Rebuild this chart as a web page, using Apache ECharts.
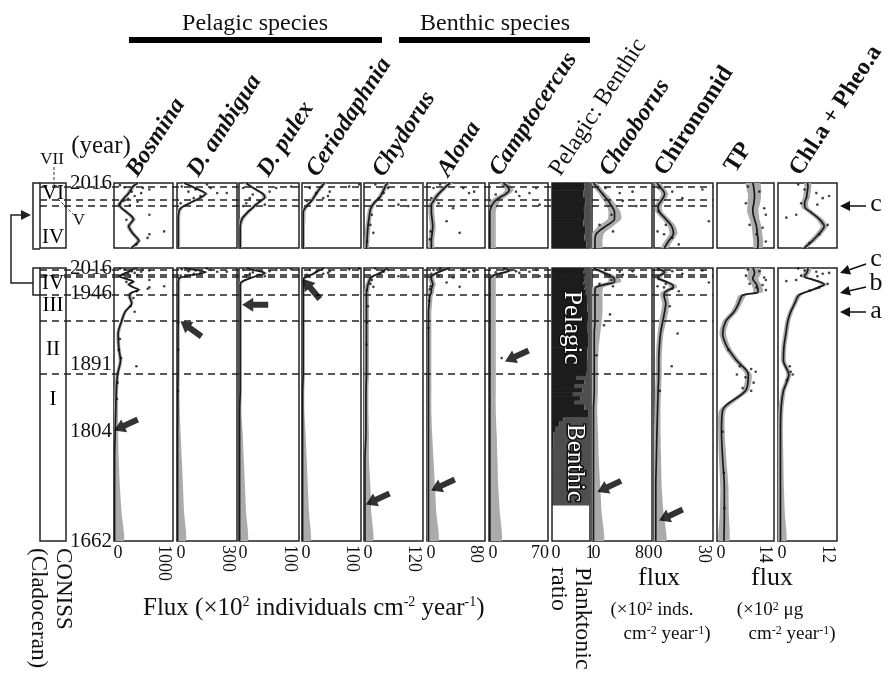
<!DOCTYPE html>
<html>
<head>
<meta charset="utf-8">
<script src="https://cdn.jsdelivr.net/npm/echarts@6/dist/echarts.min.js"></script>
<style>
html, body { margin: 0; background: #fff; }
#chart { width: 886px; height: 677px; }
</style>
</head>
<body>
<div id="chart"></div>
<script>
const FONT = '"Liberation Serif", "DejaVu Serif", serif';

// depth scale: 0 = 2016 (core top), 100 = 1662 (core bottom)
const depths = [0, 0.5, 1, 1.5, 2, 2.5, 3, 3.5, 4, 5, 6, 7, 8, 9, 10, 13, 16, 19.4, 24, 29, 34, 39, 45, 52, 60, 70, 80, 90, 100];
const yearDepths = [0, 9.5, 35.5, 60, 100];
const yearLabels = ['2016', '1946', '1891', '1804', '1662'];
const zoneDepthsTop = [0.55, 2.35, 3.2];
const zoneDepthsAll = [0.55, 2.35, 3.2, 9.9, 19.4, 38.8];
const topRowMax = 9;

const panelNames = ['Bosmina', 'D. ambigua', 'D. pulex', 'Ceriodaphnia', 'Chydorus', 'Alona', 'Camptocercus',
  'Pelagic: Benthic', 'Chaoborus', 'Chironomid', 'TP', 'Chl.a + Pheo.a'];
const axisMax = [1000, 300, 100, 100, 120, 80, 70, 1, 80, 30, 14, 12];
const maxRotated = [true, true, true, true, true, true, false, false, false, true, true, true];

// smoothed trends (values on each panel's flux axis)
const bosLine = [400, 320, 280, 240, 180, 130, 90, 130, 210, 330, 250, 320, 420, 300, 260, 300, 190, 130, 70, 80, 110, 60, 40, 30, 20, 10, 10, 10, 10];
const dAmbLine = [36, 75, 114, 144, 120, 84, 48, 18, 9, 6, 6, 6, 6, 6, 6, 6, 6, 6, 5, 5, 5, 5, 4, 4, 3, 3, 3, 3, 3];
const dPulLine = [12, 20, 30, 40, 43, 36, 28, 22, 15, 5, 2, 2, 2, 2, 2, 2, 2, 2, 2, 2, 2, 2, 2, 1, 1, 1, 1, 1, 1];
const cerioLine = [38, 33, 28, 24, 20, 16, 10, 5, 2, 2, 2, 2, 2, 2, 2, 2, 2, 2, 2, 2, 2, 2, 1, 1, 1, 1, 1, 1, 1];
const chydLine = [48, 43, 40, 36, 32, 24, 18, 14, 12, 10, 8, 7, 6, 5, 5, 5, 5, 5, 5, 5, 5, 5, 4, 4, 4, 2, 2, 2, 2];
const alonaLine = [32, 26, 21, 16, 12, 9, 6, 6, 6, 7, 8, 7, 6, 6, 4, 3, 2, 2, 2, 2, 2, 2, 2, 2, 2, 2, 2, 2, 2];
const camptoLine = [17, 22, 24, 20, 13, 7, 4, 2, 1, 1, 1, 1, 1, 1, 1, 1, 1, 1, 1, 1, 1, 1, 1, 1, 1, 1, 1, 1, 1];
const chaobLine = [2, 6, 10, 14, 18, 22, 25, 28, 30, 30, 18, 6, 4, 4, 4, 4, 4, 4, 3, 3, 3, 3, 3, 2, 2, 2, 2, 2, 2];
const chironLine = [1.5, 3, 4.5, 5.4, 4.8, 3.6, 2.4, 2.1, 2.7, 6, 9, 9.9, 7.5, 5.4, 5.1, 6, 5.4, 4.5, 3.3, 2.7, 2.4, 2.4, 2.1, 1.8, 1.5, 1.2, 0.9, 0.9, 0.9];
const tpLine = [8.8, 9.0, 9.1, 9.2, 9.2, 9.1, 9.0, 8.8, 8.8, 9.2, 9.7, 9.9, 10.1, 10.0, 6.3, 5.3, 4.2, 2.2, 1.4, 2.5, 4.9, 7.7, 7.0, 1.4, 1.1, 1.4, 1.8, 1.8, 1.7];
const chlLine = [6, 6.1, 6, 5.9, 5.8, 5.5, 5.4, 5.6, 6.6, 8.4, 9.4, 8.4, 7, 5.4, 4.2, 3.4, 2.6, 2, 1.6, 1.2, 1.1, 2.2, 1.1, 0.6, 0.5, 0.5, 0.5, 0.5, 0.5];

// half width of the grey confidence band
const bosBand = [40, 40, 40, 40, 40, 40, 40, 40, 40, 40, 40, 40, 40, 40, 40, 30, 30, 30, 30, 30, 30, 30, 30, 40, 50, 70, 90, 120, 160];
const dAmbBand = [12, 12, 12, 12, 12, 12, 12, 12, 10, 10, 10, 10, 10, 10, 10, 9, 9, 9, 9, 9, 9, 9, 9, 10, 15, 21, 27, 33, 42];
const dPulBand = [4, 4, 4, 4, 4, 4, 4, 4, 4, 4, 3, 3, 3, 3, 3, 3, 3, 3, 3, 3, 3, 3, 3, 3, 5, 7, 9, 11, 14];
const cerioBand = [4, 4, 4, 4, 4, 4, 4, 4, 4, 4, 3, 3, 3, 3, 3, 3, 3, 3, 3, 3, 3, 3, 3, 3, 5, 7, 9, 11, 14];
const chydBand = [5, 5, 5, 5, 5, 5, 5, 5, 5, 5, 5, 5, 5, 5, 5, 5, 5, 5, 5, 5, 5, 5, 5, 5, 6, 8, 11, 13, 17];
const alonaBand = [4, 4, 4, 4, 4, 4, 4, 4, 4, 4, 4, 4, 4, 4, 4, 4, 4, 4, 4, 4, 4, 4, 4, 4, 5, 7, 9, 11, 14];
const camptoBand = [5, 5, 5, 5, 6, 6, 7, 7, 7, 7, 7, 7, 7, 7, 7, 7, 7, 7, 7, 7, 7, 7, 7, 7, 8, 9, 10, 12, 14];
const chaobBand = [5, 5, 5, 5, 6, 6, 7, 7, 8, 9, 10, 10, 10, 10, 10, 10, 10, 9, 8, 6, 5, 5, 5, 5, 6, 7, 9, 11, 14];
const chironBand = [1.8, 1.8, 1.8, 1.8, 1.8, 1.8, 1.8, 1.8, 1.8, 2, 2, 2, 2, 2, 2, 1.8, 1.8, 1.8, 1.5, 1.5, 1.5, 1.5, 1.5, 1.5, 1.8, 2.4, 3, 4, 5.4];
const tpBand = [1.8, 1.8, 1.8, 1.6, 1.6, 1.6, 1.5, 1.4, 1.4, 1.2, 1.2, 1.2, 1.2, 1.2, 1.0, 0.8, 0.8, 0.8, 0.8, 0.8, 0.8, 0.8, 0.8, 0.8, 0.8, 0.9, 1.0, 1.1, 1.3];
const chlBand = [0.7, 0.7, 0.7, 0.7, 0.7, 0.7, 0.7, 0.7, 0.7, 0.7, 0.7, 0.7, 0.7, 0.6, 0.6, 0.5, 0.5, 0.5, 0.5, 0.5, 0.5, 0.5, 0.5, 0.5, 0.5, 0.6, 0.7, 0.9, 1.2];

// raw samples [value, depth]
const bosDots = [[100, 0.3], [180, 0.6], [600, 0.9], [460, 1.4], [350, 1.8], [240, 2.2], [160, 2.5], [100, 2.9], [400, 2.6], [270, 3.1], [600, 4.4], [210, 5.1], [850, 6.7], [600, 7.1], [570, 7.6], [380, 8.5], [490, 0.7], [300, 1.2], [330, 11], [280, 14], [350, 16], [380, 36], [100, 26], [80, 30], [120, 33], [60, 42], [50, 48]];
const dAmbDots = [[24, 0.5], [57, 1.2], [168, 0.7], [201, 1.4], [249, 1.4], [117, 1.8], [84, 2.1], [18, 2.8], [150, 0.2], [93, 0.9], [6, 20], [6, 30], [5, 45]];
const dPulDots = [[7, 0.7], [18, 2.1], [34, 2.5], [51, 1.2], [62, 0.7], [87, 0.5], [7, 3.2], [23, 1.6], [12, 2.8], [43, 3.0]];
const cerioDots = [[13, 0.7], [24, 1.4], [47, 1.2], [36, 2.1], [80, 0.5], [97, 0.2], [8, 2.5], [44, 1.8]];
const chydDots = [[23, 0.2], [49, 0.7], [40, 1.4], [70, 3.0], [90, 3.2], [16, 4.4], [13, 5.8], [19, 6.9], [6, 8.1], [30, 2.1], [8, 14], [6, 20], [5, 28]];
const alonaDots = [[9, 0.7], [18, 0.2], [58, 1.4], [65, 1.2], [50, 0.7], [6, 2.1], [16, 2.8], [27, 5.3], [45, 6.9], [5, 6.7], [4, 7.8], [36, 3.5], [3, 12], [2, 22]];
const camptoDots = [[17, 0.5], [32, 1.2], [48, 1.4], [56, 0.7], [36, 1.8], [60, 3.0], [8, 1.6], [15, 33]];
const chaobDots = [[18, 0.7], [37, 1.4], [54, 1.2], [41, 2.5], [26, 4.4], [10, 5.8], [28, 6.7], [59, 3.2], [24, 17], [16, 21], [6, 32]];
const chironDots = [[2.4, 0.7], [9.3, 1.2], [14.4, 2.1], [24.6, 0.9], [2.4, 3.9], [6, 5.8], [27.9, 5.3], [1.8, 6.7], [9.3, 7.6], [12.6, 8.5], [5.1, 7.1], [8, 14], [12, 24], [9, 36], [3, 45]];
const tpDots = [[7.6, 0.5], [10.4, 1.2], [7.1, 2.8], [12, 4.4], [8, 5.8], [11.2, 6.2], [12, 8.1], [9.7, 7.1], [11.6, 3.5], [5.6, 36], [8.4, 37], [9.5, 38], [7, 40], [9, 42], [6.3, 44], [8.4, 45], [4.9, 39], [2.8, 30], [1.4, 60], [1.7, 75], [1.8, 88]];
const chlDots = [[4.1, 0.2], [5.4, 0.9], [7.8, 1.4], [9.1, 2.1], [4.7, 2.8], [8, 3.0], [3.7, 4.4], [1.7, 4.8], [10.1, 5.8], [8.4, 7.1], [6.4, 8.3], [10.4, 1.8], [2.4, 36], [3, 39], [1.8, 41], [2.6, 38]];

// planktonic ratio by depth interval
const pbEdges = [0, 1, 2, 3, 4, 5, 6, 7, 8, 9, 10, 13, 16, 19.4, 24, 29, 34, 38, 39.5, 41, 42.5, 44, 45.5, 47, 48.5, 50, 52, 54.6, 56, 58, 60, 65, 70, 75, 80, 86.8];
const pbRatio = [0.85, 0.82, 0.88, 0.84, 0.86, 0.83, 0.87, 0.85, 0.9, 0.88, 0.92, 0.93, 0.95, 0.94, 0.95,
  0.93, 0.92, 0.9, 0.65, 0.85, 0.6, 0.8, 0.55, 0.75, 0.6, 0.85, 0.95, 0.3, 0.2, 0.1, 0.03, 0.02, 0.02, 0.02, 0.02];

// arrows in the long record: [panel, value, depth, rotation]
const arrowMarks = [[0, 203, 57.5, 25], [1, 70, 22.3, -36], [2, 27, 13.5, 0], [3, 16, 7.7, -50], [4, 28, 84.6, 25],
  [5, 22, 79.5, 25], [6, 33, 32.2, 25], [8, 23, 80, 25], [9, 8.6, 90.5, 25]];

// CONISS zone labels
const conissTop = [['VI', 1.4], ['IV', 7.5]];
const conissAll = [['IV', 5.5], ['III', 13.9], ['II', 30], ['I', 48]];

const lineData = [bosLine, dAmbLine, dPulLine, cerioLine, chydLine, alonaLine, camptoLine, null, chaobLine, chironLine, tpLine, chlLine];
const bandData = [bosBand, dAmbBand, dPulBand, cerioBand, chydBand, alonaBand, camptoBand, null, chaobBand, chironBand, tpBand, chlBand];
const dotData = [bosDots, dAmbDots, dPulDots, cerioDots, chydDots, alonaDots, camptoDots, null, chaobDots, chironDots, tpDots, chlDots];

// layout
const panelLeft = [114, 177, 239, 302, 364, 427, 489, 552, 592, 654, 717, 778];
const panelWidth = [59, 60, 60, 59, 59, 58, 59, 38, 60, 59, 57, 59];
const rowTop = [183, 268];
const rowHeight = [65, 273];
const titlePos = [[142, 181], [203, 181], [273, 181], [322, 181], [388, 181], [453, 181], [505, 180],
  [565, 180], [615, 180], [670, 180], [740, 177], [805, 180]];
const titleItalic = [true, true, true, true, true, true, true, false, true, false, false, false];

const ARROW = 'path://M0,7L11,0L11,4L26,4L26,10L11,10L11,14Z';

const grids = [], xAxes = [], yAxes = [], series = [];
const noAxis = { axisLine: { show: false }, axisTick: { show: false }, splitLine: { show: false } };

for (let r = 0; r < 2; r++) {
  const yMax = r === 0 ? topRowMax : 100;

  // dashed zone boundaries across the cladoceran panels
  grids.push({ left: 40, top: rowTop[r], width: 673, height: rowHeight[r], show: false });
  let gi = grids.length - 1;
  xAxes.push({ gridIndex: gi, type: 'value', min: 0, max: 1, show: false });
  yAxes.push({ gridIndex: gi, type: 'value', min: 0, max: yMax, inverse: true, show: false });
  series.push({
    type: 'line', xAxisIndex: xAxes.length - 1, yAxisIndex: yAxes.length - 1, data: [[0, 0]],
    showSymbol: false, lineStyle: { opacity: 0 }, z: 2, silent: true,
    markLine: {
      silent: true, symbol: 'none', label: { show: false },
      lineStyle: { type: [7, 5], color: '#222', width: 1.6 },
      data: (r === 0 ? zoneDepthsTop : zoneDepthsAll).map(d => ({ yAxis: d }))
    }
  });

  // CONISS box
  grids.push({ left: 40, top: rowTop[r], width: 26, height: rowHeight[r], show: true, borderColor: '#222', borderWidth: 1.5 });
  gi = grids.length - 1;
  xAxes.push({ gridIndex: gi, type: 'value', min: 0, max: 1, show: false });
  yAxes.push({ gridIndex: gi, type: 'value', min: 0, max: yMax, inverse: true, show: false });
  series.push({
    type: 'scatter', xAxisIndex: xAxes.length - 1, yAxisIndex: yAxes.length - 1, symbolSize: 1, silent: true, z: 8,
    itemStyle: { color: '#fff', opacity: 1 },
    data: (r === 0 ? conissTop : conissAll).map(z => ({ name: z[0], value: [0.5, z[1]] })),
    label: {
      show: true, position: 'top', distance: 0, offset: [0, 11], formatter: '{b}', fontFamily: FONT, fontSize: 21,
      color: '#000', opacity: 1
    }
  });

  for (let p = 0; p < panelNames.length; p++) {
    grids.push({
      left: panelLeft[p], top: rowTop[r], width: panelWidth[p], height: rowHeight[r],
      show: true, borderColor: '#222', borderWidth: 1.5, backgroundColor: 'transparent'
    });
    gi = grids.length - 1;
    const xa = xAxes.length;
    xAxes.push(Object.assign({
      gridIndex: gi, type: 'value', position: 'bottom', min: 0, max: axisMax[p], show: r === 1,
      axisLabel: { customValues: [0], fontFamily: FONT, fontSize: 18, color: '#111', margin: 3, padding: [0, 0, 0, 8] }
    }, noAxis));
    const maxLabel = maxRotated[p]
      ? { rotate: -90, verticalAlign: 'top', margin: 4 }
      : { rotate: 0, padding: p === 7 ? 0 : [0, 16, 0, 0], margin: 3 };
    xAxes.push(Object.assign({
      gridIndex: gi, type: 'value', position: 'bottom', min: 0, max: axisMax[p], show: r === 1,
      axisLabel: Object.assign({
        customValues: [axisMax[p]], formatter: v => String(v), fontFamily: FONT, fontSize: 18, color: '#111'
      }, maxLabel)
    }, noAxis));
    const ya = yAxes.length;
    yAxes.push(Object.assign({
      gridIndex: gi, type: 'value', min: 0, max: yMax, inverse: true,
      axisLabel: {
        show: p === 0, customValues: r === 0 ? [0] : yearDepths,
        formatter: v => yearLabels[yearDepths.indexOf(v)],
        fontFamily: FONT, fontSize: 21, color: '#111', margin: 2
      }
    }, noAxis));

    if (p === 7) {
      const pbItems = pbRatio.map((v, i) => [v, pbEdges[i], pbEdges[i + 1]]);
      series.push({
        type: 'custom', xAxisIndex: xa, yAxisIndex: ya, clip: true, silent: true, z: 5,
        data: pbItems,
        renderItem: (params, api) => {
          const ratio = api.value(0), t = api.value(1), b = api.value(2);
          const a = api.coord([0, t]), m = api.coord([ratio, b]), e = api.coord([1, b]);
          const h = m[1] - a[1] + 0.6;
          return {
            type: 'group', children: [
              { type: 'rect', shape: { x: a[0], y: a[1], width: m[0] - a[0], height: h }, style: { fill: '#1c1c1c' } },
              { type: 'rect', shape: { x: m[0], y: a[1], width: e[0] - m[0], height: h }, style: { fill: '#4e4e4e' } }
            ]
          };
        }
      });
      continue;
    }

    const line = lineData[p], band = bandData[p];
    series.push({
      type: 'custom', xAxisIndex: xa, yAxisIndex: ya, clip: true, silent: true, z: 1,
      data: [[0, 0]],
      renderItem: (params, api) => {
        const pts = [];
        for (let i = 0; i < depths.length; i++) pts.push(api.coord([Math.max(0, line[i] - band[i]), depths[i]]));
        for (let i = depths.length - 1; i >= 0; i--) pts.push(api.coord([line[i] + band[i], depths[i]]));
        return { type: 'polygon', shape: { points: pts, smooth: 0.2 }, style: { fill: '#ababab' } };
      }
    });
    series.push({
      type: 'line', xAxisIndex: xa, yAxisIndex: ya, silent: true, z: 3,
      data: depths.map((d, i) => [line[i], d]),
      showSymbol: false, smooth: 0.3, lineStyle: { color: '#1a1a1a', width: 1.7 }
    });
    series.push({
      type: 'scatter', xAxisIndex: xa, yAxisIndex: ya, silent: true, z: 4,
      data: dotData[p], symbolSize: 2.6, itemStyle: { color: '#111' }
    });
    if (r === 1) {
      const marks = arrowMarks.filter(a => a[0] === p);
      marks.forEach(a => {
        series.push({
          type: 'scatter', xAxisIndex: xa, yAxisIndex: ya, silent: true, z: 6, clip: false,
          data: [[a[1], a[2]]], symbol: ARROW, symbolSize: [26, 14], symbolRotate: a[3],
          itemStyle: { color: '#000' }
        });
      });
    }
  }
}

// ---- text and decorations ----
const graphic = [];
const txt = (text, x, y, opt) => Object.assign({
  type: 'text', x, y, silent: true,
  style: Object.assign({ text, fontFamily: FONT, fontSize: 22, fill: '#111', textAlign: 'center', textVerticalAlign: 'middle' }, opt || {})
});

panelNames.forEach((name, p) => {
  graphic.push({
    type: 'text', x: titlePos[p][0], y: titlePos[p][1], rotation: 57 * Math.PI / 180, silent: true,
    style: {
      text: name, fontFamily: FONT, fontSize: 24,
      fontWeight: p === 7 ? 'normal' : 'bold', fontStyle: titleItalic[p] ? 'italic' : 'normal',
      fill: '#111', textAlign: 'left', textVerticalAlign: 'bottom'
    }
  });
});

graphic.push(txt('Pelagic species', 255, 24, { fontSize: 24 }));
graphic.push(txt('Benthic species', 495, 24, { fontSize: 24 }));
graphic.push({ type: 'rect', shape: { x: 129, y: 37, width: 253, height: 6 }, style: { fill: '#000' }, silent: true });
graphic.push({ type: 'rect', shape: { x: 399, y: 37, width: 191, height: 6 }, style: { fill: '#000' }, silent: true });

graphic.push(txt('(year)', 101, 146, { fontSize: 25 }));
graphic.push(txt('VII', 52, 160, { fontSize: 17 }));
graphic.push(txt('V', 79, 221, { fontSize: 17 }));
graphic.push({ type: 'line', shape: { x1: 54, y1: 167, x2: 54, y2: 188 }, style: { stroke: '#333', lineWidth: 1, lineDash: [3, 2] }, silent: true });
graphic.push({ type: 'line', shape: { x1: 58, y1: 199, x2: 73, y2: 214 }, style: { stroke: '#333', lineWidth: 1, lineDash: [3, 2] }, silent: true });

// CONISS brackets and link arrow
graphic.push({ type: 'polyline', shape: { points: [[40, 183], [33, 183], [33, 249], [40, 249]] }, style: { stroke: '#222', lineWidth: 1.5, fill: null }, silent: true });
graphic.push({ type: 'polyline', shape: { points: [[40, 268], [33, 268], [33, 295], [40, 295]] }, style: { stroke: '#222', lineWidth: 1.5, fill: null }, silent: true });
graphic.push({ type: 'polyline', shape: { points: [[33, 283], [11, 283], [11, 215], [22, 215]] }, style: { stroke: '#222', lineWidth: 1.5, fill: null }, silent: true });
graphic.push({ type: 'polygon', shape: { points: [[31, 215], [21, 210], [21, 220]] }, style: { fill: '#222' }, silent: true });

// right-hand markers
const pointer = (x1, y1, tx, ty) => {
  const dx = tx - x1, dy = ty - y1, len = Math.hypot(dx, dy), ux = dx / len, uy = dy / len;
  const bx = tx - ux * 10, by = ty - uy * 10;
  graphic.push({ type: 'line', shape: { x1, y1, x2: bx, y2: by }, style: { stroke: '#111', lineWidth: 1.5 }, silent: true });
  graphic.push({ type: 'polygon', shape: { points: [[tx, ty], [bx - uy * 5, by + ux * 5], [bx + uy * 5, by - ux * 5]] }, style: { fill: '#111' }, silent: true });
};
pointer(866, 206, 840, 206);
graphic.push(txt('c', 876, 204, { fontSize: 26 }));
pointer(866, 264, 840, 273);
graphic.push(txt('c', 876, 259, { fontSize: 26 }));
pointer(866, 287, 840, 293);
graphic.push(txt('b', 876, 283, { fontSize: 26 }));
pointer(866, 312, 840, 312);
graphic.push(txt('a', 876, 311, { fontSize: 26 }));

// labels inside the pelagic/benthic column
graphic.push({ type: 'text', x: 572, y: 291, rotation: -Math.PI / 2, silent: true, z: 100,
  style: { text: 'Pelagic', fontFamily: FONT, fontSize: 25, fill: '#fff', stroke: '#111', lineWidth: 3, textAlign: 'left', textVerticalAlign: 'middle' } });
graphic.push({ type: 'text', x: 575, y: 424, rotation: -Math.PI / 2, silent: true, z: 100,
  style: { text: 'Benthic', fontFamily: FONT, fontSize: 25, fill: '#fff', stroke: '#111', lineWidth: 3, textAlign: 'left', textVerticalAlign: 'middle' } });

// bottom captions
const supRich = { s: { fontFamily: FONT, fontSize: 14, verticalAlign: 'top', fill: '#111' } };
graphic.push({ type: 'text', x: 143, y: 608, silent: true,
  style: { text: 'Flux (×10{s|2} individuals cm{s|-2} year{s|-1})', fontFamily: FONT, fontSize: 25, fill: '#111',
    textAlign: 'left', textVerticalAlign: 'middle', rich: supRich } });
graphic.push({ type: 'text', x: 582, y: 567, rotation: -Math.PI / 2, silent: true,
  style: { text: 'Planktonic', fontFamily: FONT, fontSize: 24, fill: '#111', textAlign: 'left', textVerticalAlign: 'middle' } });
graphic.push({ type: 'text', x: 558, y: 567, rotation: -Math.PI / 2, silent: true,
  style: { text: 'ratio', fontFamily: FONT, fontSize: 24, fill: '#111', textAlign: 'left', textVerticalAlign: 'middle' } });
graphic.push({ type: 'text', x: 63, y: 548, rotation: -Math.PI / 2, silent: true,
  style: { text: 'CONISS', fontFamily: FONT, fontSize: 23, fill: '#111', textAlign: 'left', textVerticalAlign: 'middle' } });
graphic.push({ type: 'text', x: 38, y: 548, rotation: -Math.PI / 2, silent: true,
  style: { text: '(Cladoceran)', fontFamily: FONT, fontSize: 23, fill: '#111', textAlign: 'left', textVerticalAlign: 'middle' } });

const smallRich = { s: { fontFamily: FONT, fontSize: 12, verticalAlign: 'top', fill: '#111' } };
graphic.push(txt('flux', 659, 578, { fontSize: 26 }));
graphic.push(txt('(×10{s|2} inds.', 652, 610, { fontSize: 19, rich: smallRich }));
graphic.push(txt('cm{s|-2} year{s|-1})', 667, 634, { fontSize: 19, rich: smallRich }));
graphic.push(txt('flux', 772, 578, { fontSize: 26 }));
graphic.push(txt('(×10{s|2} μg', 770, 610, { fontSize: 19, rich: smallRich }));
graphic.push(txt('cm{s|-2} year{s|-1})', 792, 634, { fontSize: 19, rich: smallRich }));

const chart = echarts.init(document.getElementById('chart'));
chart.setOption({
  backgroundColor: '#fff',
  animation: false,
  textStyle: { fontFamily: FONT },
  grid: grids,
  xAxis: xAxes,
  yAxis: yAxes,
  series: series,
  graphic: graphic
});
</script>
</body>
</html>
